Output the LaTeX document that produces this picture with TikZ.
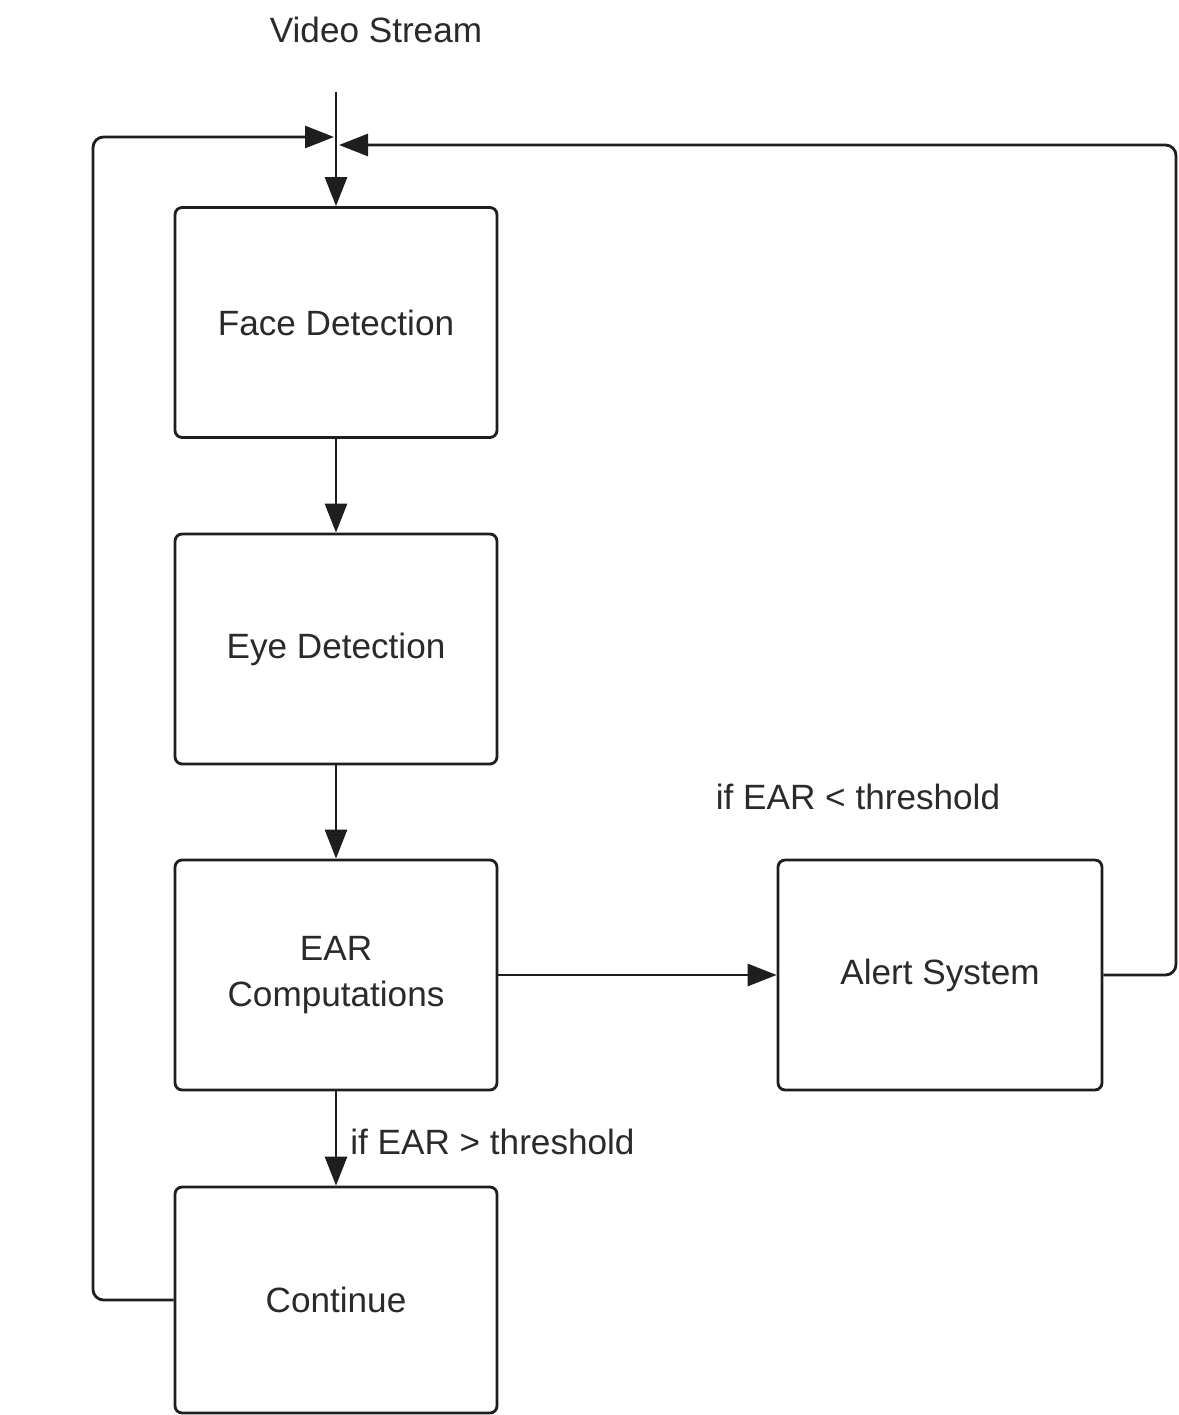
\documentclass[tikz,border=0pt]{standalone}
\usepackage{fontspec}
\setmainfont{Liberation Sans}
\usetikzlibrary{arrows.meta}
\definecolor{linec}{HTML}{1E1E1E}
\definecolor{textc}{HTML}{2A2A2A}
\begin{document}
\begin{tikzpicture}[x=0.02cm,y=-0.02cm,
  font=\fontsize{20pt}{24pt}\selectfont,
  box/.style={draw=linec,line width=1.6pt,rounded corners=4pt,minimum width=6.44cm,minimum height=4.6cm,text=textc,align=center,inner sep=0pt},
  conn/.style={draw=linec,line width=1.6pt,-{Triangle[length=0.58cm,width=0.44cm]}},
  loop/.style={conn,rounded corners=6pt},
  lbl/.style={text=textc,inner sep=0pt}]
\useasboundingbox (0,0) rectangle (1178,1415);
\fill[white] (0,0) rectangle (1178,1415);
\node[box] (face) at (336,322.5) {Face Detection};
\node[box] (eye) at (336,649) {Eye Detection};
\node[box] (ear) at (336,975) {EAR\\[2pt]Computations};
\node[box,minimum height=4.52cm] (cont) at (336,1300) {Continue};
\node[box,minimum width=6.48cm] (alert) at (940,975) {Alert System};
\node[lbl] (vs) at (376,30) {Video Stream};
\node[lbl] (lt) at (858,797) {if EAR < threshold};
\node[lbl,anchor=west] (gt) at (350,1142) {if EAR > threshold};
\coordinate (top) at (336,92);
\coordinate (jl) at (334,137);
\coordinate (jr) at (339,145);
\draw[conn] (top) -- (face.north);
\draw[conn] (face.south) -- (eye.north);
\draw[conn] (eye.south) -- (ear.north);
\draw[conn] (ear.south) -- (cont.north);
\draw[conn] (ear.east) -- (alert.west);
\draw[loop] (cont.west) -- (93,1300) -- (93,137) -- (jl);
\draw[loop] (alert.east) -- (1176,975) -- (1176,145) -- (jr);
\end{tikzpicture}
\end{document}
